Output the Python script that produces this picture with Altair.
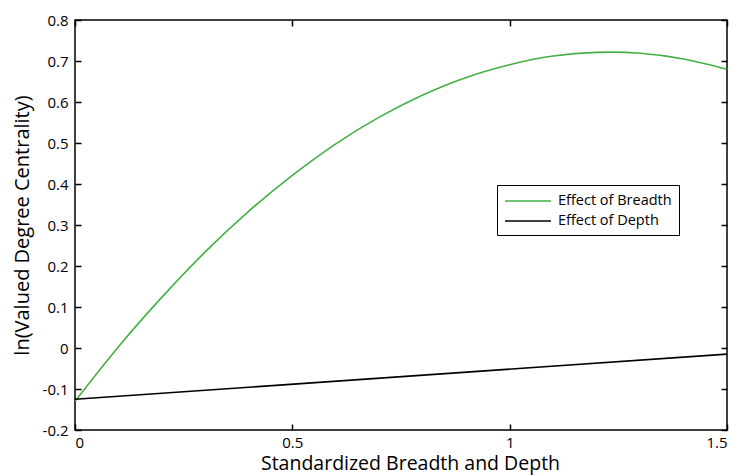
import altair as alt
import pandas as pd

# Data
breadth_x = [0.0, 0.1, 0.2, 0.3, 0.4, 0.5, 0.6, 0.7, 0.8, 0.9, 1.0, 1.1, 1.2, 1.3, 1.4, 1.5]
breadth_y = [-0.130, 0.003, 0.124, 0.235, 0.334, 0.421, 0.498, 0.563, 0.617, 0.660, 0.691, 0.712, 0.721, 0.719, 0.705, 0.680]
depth_x = [0.0, 1.5]
depth_y = [-0.125, -0.015]

series_names = ["Effect of Breadth", "Effect of Depth"]
series_colors = ["#42b142", "#000000"]

x_ticks = [0, 0.5, 1, 1.5]
y_ticks = [-0.2, -0.1, 0, 0.1, 0.2, 0.3, 0.4, 0.5, 0.6, 0.7, 0.8]

FONT = "Open Sans"

df = pd.concat([
    pd.DataFrame({"x": breadth_x, "y": breadth_y, "series": series_names[0], "order": range(len(breadth_x))}),
    pd.DataFrame({"x": depth_x, "y": depth_y, "series": series_names[1], "order": range(len(depth_x))}),
])

xscale = alt.Scale(domain=[0, 1.5], nice=False, zero=False)
yscale = alt.Scale(domain=[-0.2, 0.8], nice=False, zero=False)

axis_common = dict(domain=False, tickColor="black", tickWidth=1.5, tickSize=6, offset=-6,
                   grid=False, labelColor="black", labelFont=FONT, labelFontSize=15,
                   titleColor="black", titleFont=FONT, titleFontWeight="normal")

lines = alt.Chart(df).mark_line(strokeWidth=1.6, interpolate="natural").encode(
    x=alt.X("x:Q", scale=xscale,
            axis=alt.Axis(orient="bottom", values=x_ticks, labelExpr="'' + datum.value",
                          title="Standardized Breadth and Depth", titleFontSize=19.5,
                          titleX=335, titleAnchor="middle",
                          labelPadding=5, titlePadding=4, **axis_common)),
    y=alt.Y("y:Q", scale=yscale,
            axis=alt.Axis(orient="left", values=y_ticks, labelExpr="'' + datum.value",
                          title="ln(Valued Degree Centrality)", titleFontSize=20,
                          labelPadding=7, titlePadding=10, **axis_common)),
    color=alt.Color("series:N", scale=alt.Scale(domain=series_names, range=series_colors),
                    legend=alt.Legend(title=None, orient="none", legendX=422, legendY=165,
                                      fillColor="white", strokeColor="black",
                                      padding=7,
                                      symbolType="M-1,0L4.75,0", symbolSize=256, symbolStrokeWidth=1.6,
                                      labelFont=FONT, labelFontSize=14.5, labelColor="black",
                                      rowPadding=4, labelOffset=36)),
    order="order:Q",
)

frame = alt.Chart(df).mark_line(opacity=0).encode(
    x=alt.X("x:Q", scale=xscale,
            axis=alt.Axis(orient="top", values=x_ticks, labels=False, title=None, **axis_common)),
    y=alt.Y("y:Q", scale=yscale,
            axis=alt.Axis(orient="right", values=y_ticks, labels=False, title=None, **axis_common)),
    detail="series:N",
)

chart = alt.layer(lines, frame).resolve_axis(x="independent", y="independent").properties(
    width=652, height=410,
    autosize=alt.AutoSizeParams(type="none"),
    padding={"left": 67, "top": 12, "right": 5, "bottom": 45},
    background="white",
).configure_view(stroke="black", strokeWidth=1.5)

chart.save("out.html", embed_options={"renderer": "svg", "actions": False})
